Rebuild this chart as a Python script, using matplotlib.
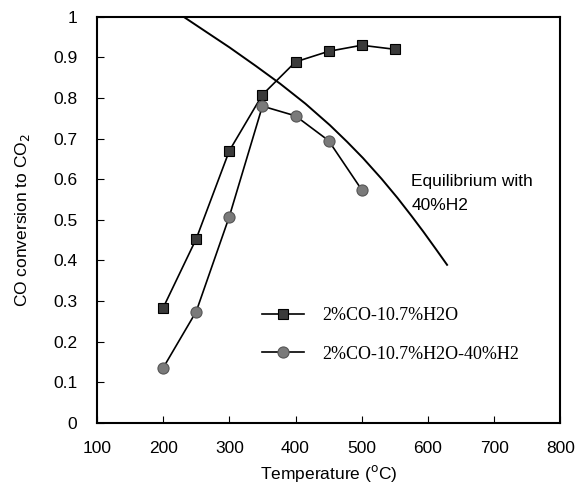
import matplotlib
matplotlib.use("Agg")
import matplotlib.pyplot as plt

# data
temp_a = [200, 250, 300, 350, 400, 450, 500, 550]
conv_a = [0.283, 0.453, 0.670, 0.808, 0.889, 0.915, 0.930, 0.920]

temp_b = [200, 250, 300, 350, 400, 450, 500]
conv_b = [0.135, 0.274, 0.508, 0.780, 0.756, 0.695, 0.574]

temp_eq = [231, 265, 300, 340, 377, 415, 452, 478, 502, 530, 554, 575, 593, 612, 629]
conv_eq = [1.000, 0.963, 0.925, 0.879, 0.835, 0.786, 0.733, 0.692, 0.652,
           0.601, 0.554, 0.510, 0.471, 0.428, 0.389]

label_a = "2%CO-10.7%H2O"
label_b = "2%CO-10.7%H2O-40%H2"

plt.rcParams["font.family"] = ["Liberation Sans", "DejaVu Sans"]

fig = plt.figure(figsize=(5.77, 4.95), dpi=100)
ax = fig.add_axes([0.168, 0.146, 0.803, 0.820])

ax.plot(temp_eq, conv_eq, color="black", lw=1.4)
ax.plot(temp_a, conv_a, color="black", lw=1.2, marker="s", ms=7.5,
        mfc="#3a3a3a", mec="black", mew=0.8, label=label_a)
ax.plot(temp_b, conv_b, color="black", lw=1.2, marker="o", ms=8,
        mfc="#7a7a7a", mec="#555555", mew=0.8, label=label_b)

ax.set_xlim(100, 800)
ax.set_ylim(0, 1)
ax.set_xticks(range(100, 801, 100))
ax.set_yticks([0, 0.1, 0.2, 0.3, 0.4, 0.5, 0.6, 0.7, 0.8, 0.9, 1])
ax.set_yticklabels(["0", "0.1", "0.2", "0.3", "0.4", "0.5", "0.6", "0.7", "0.8", "0.9", "1"])
ax.tick_params(direction="in", length=5, width=0.8, labelsize=12.5)
ax.tick_params(axis="x", pad=13)
ax.tick_params(axis="y", pad=14)
for s in ax.spines.values():
    s.set_linewidth(1.5)

ax.set_xlabel("Temperature ($^{\\mathrm{o}}$C)", fontsize=12.5, labelpad=5)
ax.set_ylabel("CO conversion to CO$_2$", fontsize=12.5, labelpad=15)

# two-line annotation next to the equilibrium curve
ax.text(575, 0.595, "Equilibrium with", fontsize=12.5, va="center")
ax.text(575, 0.535, "40%H2", fontsize=12.5, va="center")

ax.legend(loc="upper left", bbox_to_anchor=(0.322, 0.325), frameon=False,
          prop={"family": "Liberation Serif", "size": 13},
          handlelength=2.3, handletextpad=1.0, labelspacing=1.2)

fig.savefig("out.png", dpi=100)
